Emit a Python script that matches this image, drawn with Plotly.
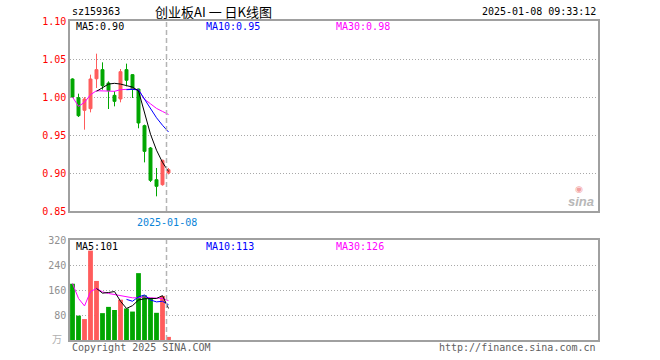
import plotly.graph_objects as go

# ---------------- data ----------------
dates = ["2024-12-16", "2024-12-17", "2024-12-18", "2024-12-19", "2024-12-20",
         "2024-12-23", "2024-12-24", "2024-12-25", "2024-12-26", "2024-12-27",
         "2024-12-30", "2024-12-31", "2025-01-02", "2025-01-03", "2025-01-06",
         "2025-01-07", "2025-01-08"]
opens  = [1.0237, 0.9991, 0.9825, 0.9846, 1.0240, 1.0360, 1.0184, 1.0022, 0.9974,
          1.0360, 1.0294, 1.0105, 0.9623, 0.9329, 0.8912, 0.8846, 0.9000]
highs  = [1.0246, 1.0044, 1.0000, 1.0294, 1.0570, 1.0456, 1.0206, 1.0075, 1.0368,
          1.0439, 1.0300, 1.0110, 0.9636, 0.9342, 0.9066, 0.9175, 0.9066]
lows   = [0.9987, 0.9737, 0.9570, 0.9798, 1.0118, 1.0096, 0.9842, 0.9877, 0.9930,
          1.0140, 0.9987, 0.9588, 0.9140, 0.8882, 0.8693, 0.8833, 0.8982]
closes = [1.0000, 0.9754, 0.9974, 1.0237, 1.0360, 1.0149, 1.0083, 0.9943, 1.0333,
          1.0220, 1.0105, 0.9658, 0.9285, 0.8904, 0.8825, 0.9167, 0.9044]
ma5_price  = [None, None, None, None, 1.0075, 1.012, 1.017, 1.018, 1.017, 1.015,
              1.013, 1.008, 0.980, 0.951, 0.930, 0.914, 0.902]
ma10_price = [None] * 9 + [1.0096, 1.0100, 1.0094, 0.9976, 0.9845, 0.9727, 0.9628, 0.9540]
ma30_price = [1.000, 0.9877, 0.993, 1.003, 1.0083, 1.0083, 1.008, 1.0075, 1.0096,
              1.0105, 1.0105, 1.0096, 0.997, 0.991, 0.985, 0.981, 0.977]

volumes  = [180, 78, 67, 286, 189, 86, 106, 96, 129, 101, 91, 214, 143, 135, 87, 141, 10]
vol_ma5  = [None, None, None, None, 165, 150, 152, 155, 124, 101, 110, 128, 132, 132, 133, 142, 101]
vol_ma10 = [None] * 9 + [130, 124, 138, 144, 128, 122, 124, 113]
vol_ma30 = [181, 133, 109, 155, 165, 154, 149, 146, 142, 139, 135, 135, 138, 135, 134, 133, 126]

price_ticks = [0.85, 0.90, 0.95, 1.00, 1.05, 1.10]
vol_ticks = [80, 160, 240, 320]

code = "sz159363"
title = "创业板AI 一 日K线图"
stamp = "2025-01-08 09:33:12"
price_ma_labels = ["MA5:0.90", "MA10:0.95", "MA30:0.98"]
vol_ma_labels = ["MA5:101", "MA10:113", "MA30:126"]

# ---------------- style ----------------
RED = "#ff5c5c"
GREEN = "#00a600"
MONO = "DejaVu Sans Mono, Liberation Mono, monospace"
CJK = "Noto Sans CJK SC, sans-serif"
W, H = 660, 360
L, R, T, B = 70, 62, 21, 20
PW, PH = W - L - R, H - T - B
GRID_DASH = "1px,2px"


def px(x):
    return (x - L) / PW


def py(y):
    return (H - B - y) / PH


xs = list(range(len(dates)))
n_units = PW / 6.0
x0 = -2.5 / 6.0
xrange = [x0, x0 + n_units]

fig = go.Figure()

fig.add_trace(go.Candlestick(
    x=xs, open=opens, high=highs, low=lows, close=closes,
    increasing=dict(line=dict(color=RED, width=1), fillcolor=RED),
    decreasing=dict(line=dict(color=GREEN, width=1), fillcolor=GREEN),
    whiskerwidth=0, xaxis="x", yaxis="y", showlegend=False, hoverinfo="skip"))

for vals, col in [(ma30_price, "#ff00ff"), (ma10_price, "#0000ff"), (ma5_price, "#000000")]:
    fig.add_trace(go.Scatter(x=xs, y=vals, mode="lines", line=dict(color=col, width=1),
                             xaxis="x", yaxis="y", showlegend=False, hoverinfo="skip"))

bar_colors = [RED if c >= o else GREEN for o, c in zip(opens, closes)]
fig.add_trace(go.Bar(x=xs, y=volumes, marker=dict(color=bar_colors, line=dict(width=0)),
                     width=0.8, xaxis="x2", yaxis="y2", showlegend=False, hoverinfo="skip"))
for vals, col in [(vol_ma30, "#ff00ff"), (vol_ma10, "#0000ff"), (vol_ma5, "#000000")]:
    fig.add_trace(go.Scatter(x=xs, y=vals, mode="lines", line=dict(color=col, width=1),
                             xaxis="x2", yaxis="y2", showlegend=False, hoverinfo="skip"))

main_dom = [py(211), 1.0]
vol_dom = [0.0, py(240)]

axis_common = dict(showline=True, mirror=True, linecolor="#a0a0a0", linewidth=1.5,
                   zeroline=False, ticks="", automargin=False)
fig.update_layout(
    width=W, height=H, margin=dict(l=L, r=R, t=T, b=B, autoexpand=False),
    paper_bgcolor="white", plot_bgcolor="white",
    boxgap=0.3,
    xaxis=dict(domain=[0, 1], range=xrange, showgrid=False, showticklabels=False,
               rangeslider=dict(visible=False), anchor="y", **axis_common),
    yaxis=dict(domain=main_dom, range=[0.85, 1.10], tickvals=price_ticks,
               ticktext=[f"{v:.2f}" for v in price_ticks],
               tickfont=dict(family=MONO, size=10, color="#ff0000"),
               showgrid=True, gridcolor="#a8a8a8", griddash=GRID_DASH, gridwidth=1,
               anchor="x", **axis_common),
    xaxis2=dict(domain=[0, 1], range=xrange, showgrid=False, showticklabels=False,
                anchor="y2", matches="x", **axis_common),
    yaxis2=dict(domain=vol_dom, range=[0, 320], tickvals=vol_ticks,
                ticktext=[str(v) for v in vol_ticks],
                tickfont=dict(family=MONO, size=10, color="#909090"),
                showgrid=True, gridcolor="#a8a8a8", griddash=GRID_DASH, gridwidth=1,
                anchor="x2", **axis_common),
)

# vertical dashed marker at the latest date
last = xs[-1] - 1.0 / 3.0
for yr in ("y domain", "y2 domain"):
    fig.add_shape(type="line", xref="x", yref=yr, x0=last, x1=last, y0=0, y1=1,
                  line=dict(color="#b4b4b4", width=1.5, dash="5px,3px"), layer="above")


def txt(x, y, s, color="#000000", size=10, family=MONO, xanchor="left", **kw):
    fig.add_annotation(x=px(x), y=py(y), xref="paper", yref="paper", text=s,
                       showarrow=False, xanchor=xanchor, yanchor="middle",
                       font=dict(family=family, size=size, color=color), **kw)


txt(70, 12, code)
txt(213, 11, title, size=13, family=CJK, xanchor="center")
txt(598, 12, stamp, xanchor="right")

ma_cols = ["#000000", "#0000ff", "#ff00ff"]
for xpos, lab, col in zip([74, 204, 334], price_ma_labels, ma_cols):
    txt(xpos, 27, lab, color=col)
for xpos, lab, col in zip([74, 204, 334], vol_ma_labels, ma_cols):
    txt(xpos, 246, lab, color=col)

fig.add_annotation(x=last, y=py(222), xref="x", yref="paper",
                   text=dates[-1], showarrow=False, xanchor="center", yanchor="middle",
                   font=dict(family=MONO, size=10, color="#0a84d8"))

txt(70, 347, "Copyright 2025 SINA.COM", color="#606060")
txt(598, 347, "http://finance.sina.com.cn", color="#606060", xanchor="right")
txt(57, 338, "万", color="#b0b0b0", size=10, family=CJK, xanchor="center")

# sina watermark
txt(581, 201, "<b><i>sina</i></b>", color="#b8b8b8", size=13,
    family="Liberation Sans, sans-serif", xanchor="center")
txt(579, 189, "◉", color="#f2a0a0", size=9, family="DejaVu Sans", xanchor="center")

fig.write_html("out.html", config={"displayModeBar": False},
               post_script="document.body.style.margin='0';")
